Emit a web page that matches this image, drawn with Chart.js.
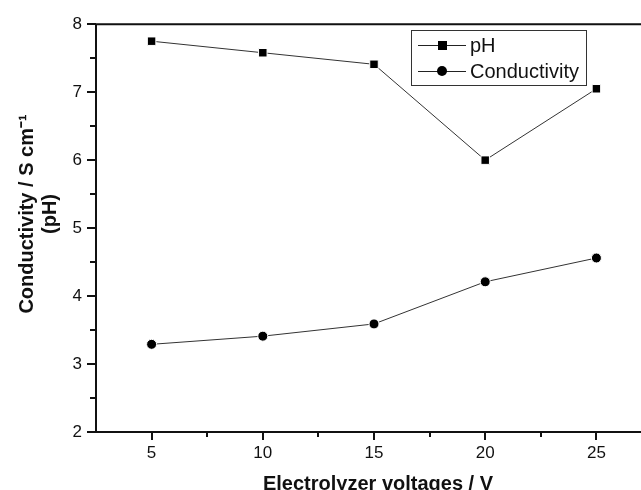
<!DOCTYPE html>
<html>
<head>
<meta charset="utf-8">
<script src="https://cdn.jsdelivr.net/npm/chart.js@4"></script>
<style>
  html, body { margin: 0; padding: 0; background: #fff; }
  #wrap { width: 641px; height: 490px; }
</style>
</head>
<body>
<div id="wrap"><canvas id="chart" width="641" height="490"></canvas></div>
<script>
// values
const voltages = [5, 10, 15, 20, 25];
const phValues = [7.75, 7.58, 7.41, 6.0, 7.05];
const conductivityValues = [3.29, 3.41, 3.59, 4.21, 4.56];
const xTickValues = [5, 10, 15, 20, 25];
const yTickValues = [2, 3, 4, 5, 6, 7, 8];
const xTitle = "Electrolyzer voltages / V";
const yTitleLines = ["Conductivity / S cm\u207B\u00B9", "(pH)"];

const FONT = "'Liberation Sans', Arial, sans-serif";
const INK = "#111";

const toPoints = (ys) => voltages.map((x, i) => ({ x: x, y: ys[i] }));

// outward ticks with minor ticks, frame, and the axis titles
const axisTicks = {
  id: "axisTicks",
  afterDraw(chart) {
    const { ctx, chartArea, scales } = chart;
    const xs = scales.x, ys = scales.y;
    ctx.save();
    ctx.strokeStyle = INK;
    ctx.lineWidth = 2;
    // y ticks
    for (let v = ys.min; v <= ys.max + 0.001; v += 0.5) {
      const py = Math.round(ys.getPixelForValue(v));
      const len = Number.isInteger(v) ? 9 : 6;
      ctx.beginPath();
      ctx.moveTo(chartArea.left - len, py);
      ctx.lineTo(chartArea.left, py);
      ctx.stroke();
    }
    // x ticks
    for (let v = 2.5; v <= xs.max; v += 2.5) {
      if (v <= xs.min) continue;
      const px = Math.round(xs.getPixelForValue(v));
      const len = v % 5 === 0 ? 8 : 5;
      ctx.beginPath();
      ctx.moveTo(px, chartArea.bottom);
      ctx.lineTo(px, chartArea.bottom + len);
      ctx.stroke();
    }
    // frame (runs off the right edge like the original)
    ctx.beginPath();
    ctx.moveTo(chartArea.left, chartArea.bottom);
    ctx.lineTo(chartArea.left, chartArea.top);
    ctx.lineTo(chart.width + 2, chartArea.top);
    ctx.moveTo(chartArea.left - 1, chartArea.bottom);
    ctx.lineTo(chart.width + 2, chartArea.bottom);
    ctx.stroke();

    ctx.fillStyle = INK;
    ctx.font = "bold 20px " + FONT;
    ctx.textAlign = "center";
    ctx.textBaseline = "middle";
    // x title, centred on the full (cropped) plot width of the original
    ctx.fillText(xTitle, 378, 484);
    // y title, slightly above the plot centre as in the original
    ctx.translate(27, 214);
    ctx.rotate(-Math.PI / 2);
    yTitleLines.forEach((t, i) => ctx.fillText(t, 0, i * 23));
    ctx.restore();
  }
};

// boxed legend: line - marker - line, then label
const boxLegend = {
  id: "boxLegend",
  afterDraw(chart) {
    const { ctx } = chart;
    const box = { x: 411, y: 30, w: 175, h: 55 };
    ctx.save();
    ctx.fillStyle = "#fff";
    ctx.fillRect(box.x, box.y, box.w, box.h);
    ctx.strokeStyle = "#333";
    ctx.lineWidth = 1;
    ctx.strokeRect(box.x + 0.5, box.y + 0.5, box.w, box.h);
    chart.data.datasets.forEach((ds, i) => {
      const cy = box.y + 15 + i * 26;
      ctx.strokeStyle = "#222";
      ctx.lineWidth = 1;
      ctx.beginPath();
      ctx.moveTo(box.x + 7, cy + 0.5);
      ctx.lineTo(box.x + 55, cy + 0.5);
      ctx.stroke();
      ctx.fillStyle = "#000";
      if (ds.pointStyle === "rect") {
        ctx.fillRect(box.x + 27, cy - 4, 9, 9);
      } else {
        ctx.beginPath();
        ctx.arc(box.x + 31, cy, 5, 0, Math.PI * 2);
        ctx.fill();
      }
      ctx.fillStyle = INK;
      ctx.font = "20px " + FONT;
      ctx.textBaseline = "middle";
      ctx.textAlign = "left";
      ctx.fillText(ds.label, box.x + 59, cy + 1);
    });
    ctx.restore();
  }
};

new Chart(document.getElementById("chart").getContext("2d"), {
  type: "scatter",
  data: {
    datasets: [
      {
        label: "pH",
        data: toPoints(phValues),
        showLine: true,
        borderColor: "#333",
        borderWidth: 1,
        pointStyle: "rect",
        pointRadius: 6,
        pointBackgroundColor: "#000",
        pointBorderColor: "#fff",
        pointBorderWidth: 1
      },
      {
        label: "Conductivity",
        data: toPoints(conductivityValues),
        showLine: true,
        borderColor: "#333",
        borderWidth: 1,
        pointStyle: "circle",
        pointRadius: 5,
        pointBackgroundColor: "#000",
        pointBorderColor: "#fff",
        pointBorderWidth: 1
      }
    ]
  },
  options: {
    responsive: false,
    animation: false,
    layout: { padding: { top: 24, left: 0, right: 0, bottom: 0 } },
    plugins: {
      legend: { display: false },
      tooltip: { enabled: false }
    },
    scales: {
      x: {
        type: "linear",
        min: 2.5,
        max: 26.69,
        afterBuildTicks: (scale) => { scale.ticks = xTickValues.map(v => ({ value: v })); },
        afterFit: (scale) => {
          scale.height = 58;
          scale.paddingLeft = 0;
          scale.paddingRight = 0;
        },
        grid: { display: false, drawTicks: false },
        border: { display: false },
        ticks: { color: INK, font: { family: FONT, size: 17 }, padding: 11 }
      },
      y: {
        type: "linear",
        min: 2,
        max: 8,
        afterBuildTicks: (scale) => { scale.ticks = yTickValues.map(v => ({ value: v })); },
        afterFit: (scale) => { scale.width = 96; },
        grid: { display: false, drawTicks: false },
        border: { display: false },
        ticks: { color: INK, font: { family: FONT, size: 17 }, padding: 14 }
      }
    }
  },
  plugins: [axisTicks, boxLegend]
});
</script>
</body>
</html>
